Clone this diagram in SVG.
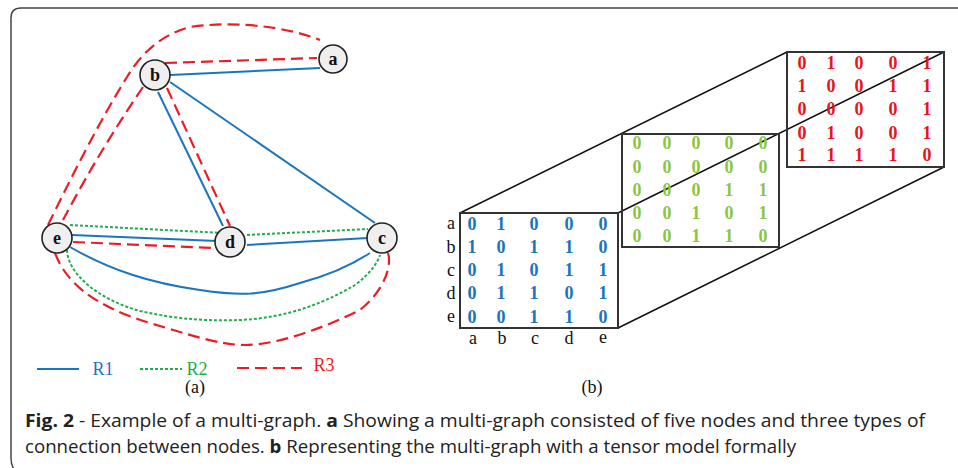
<svg xmlns="http://www.w3.org/2000/svg" width="958" height="468" viewBox="0 0 958 468">
<style>
.r1{fill:none;stroke:#1b75bc;stroke-width:2}
.r2{fill:none;stroke:#1fae4b;stroke-width:2;stroke-dasharray:3 2}
.r3{fill:none;stroke:#ec1c24;stroke-width:2.2;stroke-dasharray:12 6}
.node circle{fill:#efefef;stroke:#222;stroke-width:1.6}
.node text{font-family:"Liberation Serif",serif;font-weight:bold;font-size:18px;text-anchor:middle;fill:#111}
.lab{font-family:"Liberation Serif",serif;font-size:18px;fill:#111;text-anchor:middle}
.mb{font-family:"Liberation Serif",serif;font-weight:bold;font-size:18px;text-anchor:middle;fill:#1b75bc}
.mg{font-family:"Liberation Serif",serif;font-weight:bold;font-size:18px;text-anchor:middle;fill:#8cc63f}
.mr{font-family:"Liberation Serif",serif;font-weight:bold;font-size:18px;text-anchor:middle;fill:#e8141b}
.box{fill:none;stroke:#333;stroke-width:2}
.edge{stroke:#111;stroke-width:1.5;fill:none}
.cap{font-family:"Open Sans",sans-serif;font-size:18px;fill:#222}
</style>
<path d="M958 8 H21 Q11 8 11 18 V458 Q11 466 15 470" fill="none" stroke="#444" stroke-width="1.5"/>

<g id="connectors">
<path class="r3" d="M48 225 C70 180 100 120 127 77 C140 55 160 35 190 27 C240 20 290 28 320 40"/>
<path class="r3" d="M165 63 L317 58"/>
<path class="r1" d="M170 75 L320 68"/>
<path class="r3" d="M143 87 Q100 150 63 220"/>
<path class="r1" d="M158 92 L223 226"/>
<path class="r3" d="M167 88 L230 226"/>
<path class="r1" d="M170 82 L375 223"/>
<path class="r2" d="M70 225 L222 233"/>
<path class="r2" d="M247 235 L368 229"/>
<path class="r1" d="M72 235 L217 241"/>
<path class="r1" d="M247 245 L368 238"/>
<path class="r3" d="M73 242 L215 248"/>
<path class="r1" d="M70 247 C110 270 150 283 200 290 C240 296 260 296 300 283 C330 275 350 266 370 253"/>
<path class="r2" d="M67 250 C68 275 100 300 140 311 C180 320 210 321 240 320 C290 318 330 300 355 285 C370 274 378 262 380 255"/>
<path class="r3" d="M55 253 C65 280 90 305 150 323 C190 335 220 345 245 345 C280 345 330 325 360 310 C385 290 392 265 388 253"/>
</g>

<g id="node-b" class="node"><circle cx="155" cy="75" r="15"/><text x="155" y="81">b</text></g>
<g id="node-a" class="node"><circle cx="333" cy="59" r="14"/><text x="333" y="65">a</text></g>
<g id="node-e" class="node"><circle cx="57" cy="238" r="15"/><text x="57" y="244">e</text></g>
<g id="node-d" class="node"><circle cx="230" cy="242" r="15"/><text x="230" y="248">d</text></g>
<g id="node-c" class="node"><circle cx="382" cy="238" r="15"/><text x="382" y="244">c</text></g>

<g id="legend">
<line class="r1" x1="37" y1="369" x2="79" y2="369"/>
<text x="103" y="375" font-family="Liberation Serif,serif" font-size="18" fill="#1b75bc" text-anchor="middle">R1</text>
<line class="r2" x1="140" y1="369" x2="182" y2="369"/>
<text x="197" y="375" font-family="Liberation Serif,serif" font-size="18" fill="#1fae4b" text-anchor="middle">R2</text>
<line class="r3" x1="237" y1="368" x2="302" y2="368"/>
<text x="324" y="371" font-family="Liberation Serif,serif" font-size="18" fill="#ec1c24" text-anchor="middle">R3</text>
<text class="lab" x="195" y="393">(a)</text>
</g>

<g id="tensor">
<path class="edge" d="M460 213 L787 52 M618 213 L944 52 M618 328 L944 167"/>
<rect class="box" x="787" y="52" width="157" height="115"/>
<rect class="box" x="622" y="134" width="157" height="113"/>
<rect class="box" x="460" y="213" width="158" height="115"/>

<g class="mr">
<text y="69"><tspan x="802">0</tspan><tspan x="831">1</tspan><tspan x="859">0</tspan><tspan x="893">0</tspan><tspan x="927">1</tspan></text>
<text y="92"><tspan x="802">1</tspan><tspan x="831">0</tspan><tspan x="859">0</tspan><tspan x="893">1</tspan><tspan x="927">1</tspan></text>
<text y="115"><tspan x="802">0</tspan><tspan x="831">0</tspan><tspan x="859">0</tspan><tspan x="893">0</tspan><tspan x="927">1</tspan></text>
<text y="139"><tspan x="802">0</tspan><tspan x="831">1</tspan><tspan x="859">0</tspan><tspan x="893">0</tspan><tspan x="927">1</tspan></text>
<text y="161"><tspan x="802">1</tspan><tspan x="831">1</tspan><tspan x="859">1</tspan><tspan x="893">1</tspan><tspan x="927">0</tspan></text>
</g>
<g class="mg">
<text y="149"><tspan x="637">0</tspan><tspan x="667">0</tspan><tspan x="696">0</tspan><tspan x="729">0</tspan><tspan x="763">0</tspan></text>
<text y="173"><tspan x="637">0</tspan><tspan x="667">0</tspan><tspan x="696">0</tspan><tspan x="729">0</tspan><tspan x="763">0</tspan></text>
<text y="196"><tspan x="637">0</tspan><tspan x="667">0</tspan><tspan x="696">0</tspan><tspan x="729">1</tspan><tspan x="763">1</tspan></text>
<text y="219"><tspan x="637">0</tspan><tspan x="667">0</tspan><tspan x="696">1</tspan><tspan x="729">0</tspan><tspan x="763">1</tspan></text>
<text y="242"><tspan x="637">0</tspan><tspan x="667">0</tspan><tspan x="696">1</tspan><tspan x="729">1</tspan><tspan x="763">0</tspan></text>
</g>
<g class="mb">
<text y="230"><tspan x="472">0</tspan><tspan x="501">1</tspan><tspan x="534">0</tspan><tspan x="569">0</tspan><tspan x="603">0</tspan></text>
<text y="253"><tspan x="472">1</tspan><tspan x="501">0</tspan><tspan x="534">1</tspan><tspan x="569">1</tspan><tspan x="603">0</tspan></text>
<text y="276"><tspan x="472">0</tspan><tspan x="501">1</tspan><tspan x="534">0</tspan><tspan x="569">1</tspan><tspan x="603">1</tspan></text>
<text y="299"><tspan x="472">0</tspan><tspan x="501">1</tspan><tspan x="534">1</tspan><tspan x="569">0</tspan><tspan x="603">1</tspan></text>
<text y="323"><tspan x="472">0</tspan><tspan x="501">0</tspan><tspan x="534">1</tspan><tspan x="569">1</tspan><tspan x="603">0</tspan></text>
</g>
<g class="lab">
<text x="451" y="229">a</text>
<text x="451" y="253">b</text>
<text x="451" y="276">c</text>
<text x="451" y="299">d</text>
<text x="451" y="322">e</text>
<text x="473" y="344">a</text>
<text x="502" y="344">b</text>
<text x="535" y="344">c</text>
<text x="569" y="344">d</text>
<text x="603" y="343">e</text>
<text x="592" y="393">(b)</text>
</g>
</g>

<g id="caption">
<text class="cap" x="25" y="427" textLength="900" lengthAdjust="spacingAndGlyphs"><tspan font-weight="bold">Fig. 2</tspan>  - Example of a multi-graph. <tspan font-weight="bold">a</tspan> Showing a multi-graph consisted of five nodes and three types of</text>
<text class="cap" x="25" y="453" textLength="771" lengthAdjust="spacingAndGlyphs">connection between nodes. <tspan font-weight="bold">b</tspan> Representing the multi-graph with a tensor model formally</text>
</g>
</svg>
